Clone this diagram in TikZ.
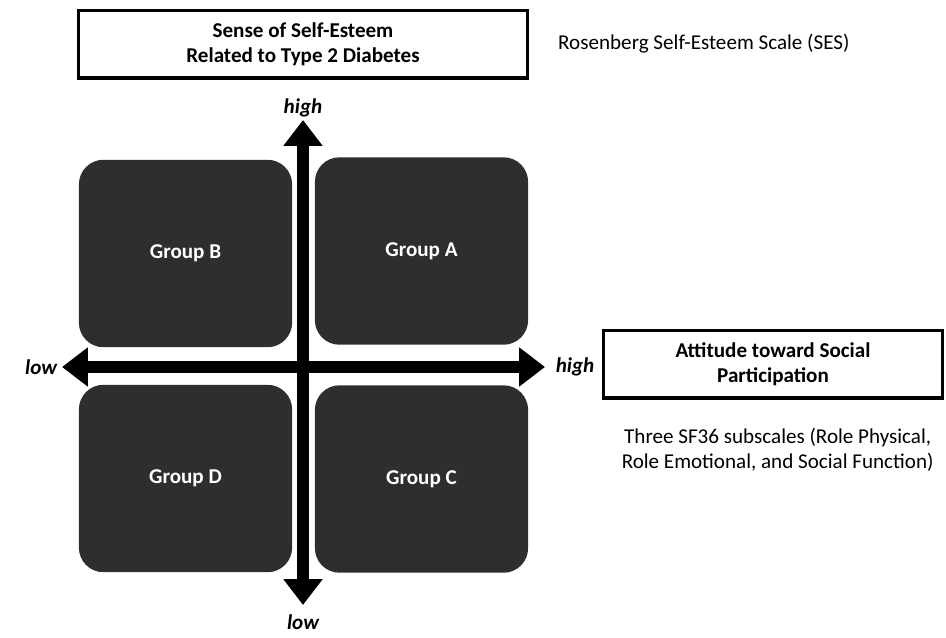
\documentclass[tikz,border=0pt]{standalone}
\usepackage{fontspec}
\setmainfont{Carlito}
\usetikzlibrary{positioning}
\usetikzlibrary{arrows.meta}
\definecolor{groupgray}{HTML}{2E2E2E}
\tikzstyle{axis} = [line width=9.4pt,{Triangle[width=32pt,length=22pt]}-{Triangle[width=32pt,length=22pt]}]
\tikzstyle{group} = [fill=groupgray,rounded corners=21pt,minimum width=182pt,minimum height=160pt,text=white,font=\fontsize{18}{21}\selectfont\bfseries]
\tikzstyle{titlebox} = [draw,line width=2.6pt,fill=white,align=center,minimum height=58pt,font=\fontsize{18}{21.5}\selectfont\bfseries]
\tikzstyle{note} = [align=center,font=\fontsize{18}{21.5}\selectfont]
\tikzstyle{axislabel} = [inner sep=1pt,font=\fontsize{18}{21}\selectfont\bfseries\itshape]

\begin{document}
\begin{tikzpicture}[x=0.03cm,y=-0.03cm]
	\useasboundingbox (0,0) rectangle (946,637);

	%Nodes
	\node [titlebox,minimum width=384pt] (esteem) at (303,44) {Sense of Self-Esteem\\Related to Type 2 Diabetes};
	\node [note,right=21pt of esteem] (ses) {Rosenberg Self-Esteem Scale (SES)};

	\node [group] (groupB) at (185.5,253.5) {Group B};
	\node [group] (groupA) at (421.5,251) {Group A};
	\node [group] (groupD) at (185.5,478.5) {Group D};
	\node [group] (groupC) at (421.5,479) {Group C};

	\coordinate (ytop) at (303,120);
	\coordinate (ybot) at (303,605);
	\coordinate (xleft) at (62,367);
	\coordinate (xright) at (545,367);

	\node [axislabel,above=1.5pt of ytop] (highY) {high};
	\node [axislabel,below=7pt of ybot] (lowY) {low};
	\node [axislabel,left=3pt of xleft] (lowX) {low};
	\node [axislabel,right=8pt of xright] (highX) {high};

	\node [titlebox,minimum width=289pt] (social) at (773,364) {Attitude toward Social\\Participation};
	\node [note,below=21pt of social.south,anchor=north,xshift=4pt] (sf) {Three SF36 subscales (Role Physical,\\Role Emotional, and Social Function)};

	%Lines
	\draw[axis] (xleft) -- (xright);
	\draw[axis] (ybot) -- (ytop);

\end{tikzpicture}
\end{document}
